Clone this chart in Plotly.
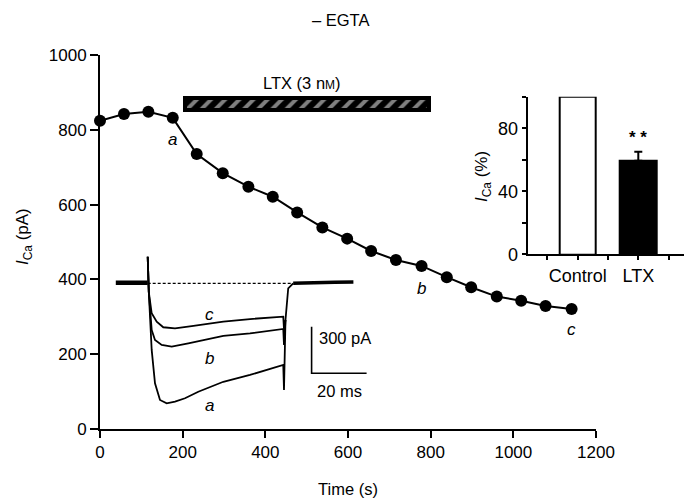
import plotly.graph_objects as go

# ---------------- data ----------------
time_s = [0, 58, 117, 176, 234, 297, 359, 418, 477, 538, 598, 656, 716, 778, 839, 898, 960, 1019, 1078, 1141]
ica_pA = [824, 842, 848, 832, 735, 684, 648, 621, 579, 539, 509, 476, 452, 436, 406, 379, 354, 343, 329, 321]

ltx_start_s = 205
ltx_end_s = 795

bar_cats = ["Control", "LTX"]
bar_pct = [100, 59.4]
bar_err = [0, 5.7]

# current traces (ms, pA)
base_pre_t = [-11.6, -8.0, -4.0, 0.0]
base_pre_i = [0, 2, -1, 0]
base_post_t = [52.9, 58.0, 63.0, 68.0, 74.8]
base_post_i = [-4, 0, 1, 3, 4]

trace_a_t = [0, 0.4, 1.45, 2.65, 4.47, 6.9, 9.93, 13.56, 18.4, 23.27, 27.5, 37.2, 49.3, 49.56, 50.1, 51.1, 52.9]
trace_a_i = [167, -60, -433, -648, -755, -777, -766, -744, -702, -670, -638, -594, -530, -691, -240, -36, -4]
trace_b_t = [0, 0.4, 1.45, 2.65, 5.09, 8.73, 14.76, 20.83, 27.5, 37.2, 49.3, 49.56, 50.1]
trace_b_i = [167, -60, -305, -369, -401, -412, -390, -369, -343, -327, -298, -401, -240]
trace_c_t = [0, 0.4, 1.45, 3.27, 5.67, 9.93, 16, 27.5, 37.2, 49.3, 49.56, 50.1]
trace_c_i = [167, -60, -197, -251, -287, -294, -279, -251, -234, -219, -300, -240]

zero_t = [0, 52.4]
zero_i = [-4, -4]

scale_pA = 300
scale_ms = 20

# ---------------- layout helpers ----------------
W, H = 684, 498
def px(x):
    return x / W
def py(y):
    return 1 - y / H

FONT = "Liberation Sans, Arial, sans-serif"
INK = "#000000"

fig = go.Figure()

# main time course
fig.add_trace(go.Scatter(
    x=time_s, y=ica_pA, mode="lines+markers",
    line=dict(color=INK, width=2),
    marker=dict(color=INK, size=12),
    cliponaxis=False, xaxis="x", yaxis="y", showlegend=False, hoverinfo="skip"))

# LTX application bar (hatched)
fig.add_trace(go.Bar(
    x=[ltx_end_s - ltx_start_s], base=[ltx_start_s], y=[868.5], width=[33],
    orientation="h",
    marker=dict(color="black", line=dict(color="black", width=4),
                pattern=dict(shape="/", fgcolor="white", bgcolor="black", size=10, solidity=0.4)),
    xaxis="x", yaxis="y", showlegend=False, hoverinfo="skip"))

# inset bar chart
fig.add_trace(go.Bar(
    x=[0, 1], y=bar_pct, width=0.605,
    marker=dict(color=["white", "black"], line=dict(color=INK, width=2)),
    xaxis="x2", yaxis="y2", showlegend=False, hoverinfo="skip"))
fig.add_trace(go.Scatter(
    x=[1], y=[bar_pct[1]], mode="markers", marker=dict(size=1, color="rgba(0,0,0,0)"),
    error_y=dict(type="data", symmetric=False, array=[bar_err[1]], arrayminus=[0],
                 color=INK, thickness=2, width=4),
    xaxis="x2", yaxis="y2", showlegend=False, hoverinfo="skip"))

# current traces inset
def tr(t, i, w, dash=None):
    fig.add_trace(go.Scatter(x=t, y=i, mode="lines", line=dict(color=INK, width=w, dash=dash),
                             xaxis="x3", yaxis="y3", showlegend=False, cliponaxis=False,
                             hoverinfo="skip"))
tr(zero_t, zero_i, 1.2, "3px,2px")
tr(base_pre_t, base_pre_i, 4.5)
tr(base_post_t, base_post_i, 3.5)
tr(trace_a_t, trace_a_i, 1.8)
tr(trace_b_t, trace_b_i, 1.8)
tr(trace_c_t, trace_c_i, 1.8)
# scale bars
sb_x0, sb_y0 = 59.6, -283
tr([sb_x0, sb_x0, sb_x0 + scale_ms], [sb_y0, sb_y0 - scale_pA, sb_y0 - scale_pA], 1.6)

axis_common = dict(showgrid=False, zeroline=False, showline=True, linecolor=INK,
                   ticks="outside", tickcolor=INK, color=INK, automargin=False)

fig.update_layout(
    width=W, height=H, margin=dict(l=0, r=0, t=0, b=0, pad=0, autoexpand=False),
    paper_bgcolor="white", plot_bgcolor="rgba(0,0,0,0)",
    font=dict(family=FONT, color=INK, size=17),
    bargap=0,
    xaxis=dict(domain=[px(100), px(596)], range=[0, 1200], tickvals=[0, 200, 400, 600, 800, 1000, 1200],
               linewidth=2, ticklen=7, tickwidth=2, anchor="y", tickfont=dict(size=17), **axis_common),
    yaxis=dict(domain=[py(429), py(55)], range=[0, 1000], tickvals=[0, 200, 400, 600, 800, 1000],
               linewidth=2, ticklen=8, tickwidth=2, anchor="x", tickfont=dict(size=17), **axis_common),
    xaxis2=dict(domain=[px(527.7), 1.0], range=[-0.825, 1.754], tickvals=[0, 1],
                ticktext=bar_cats, linewidth=2, ticklen=4, tickwidth=1.5,
                minor=dict(tickvals=[-0.5, 0.5, 1.5], ticks="outside", ticklen=4, tickwidth=1.5, tickcolor=INK),
                anchor="y2", tickfont=dict(size=18), **axis_common),
    yaxis2=dict(domain=[py(254.3), py(96.7)], range=[0, 100], tickvals=[0, 40, 80],
                linewidth=2, ticklen=4, tickwidth=1.5,
                minor=dict(tickvals=[20, 60, 100], ticks="outside", ticklen=4, tickwidth=1.5, tickcolor=INK),
                anchor="x2", tickfont=dict(size=18), **axis_common),
    xaxis3=dict(domain=[px(92.7), px(395.2)], range=[-20, 90], visible=False, anchor="y3", automargin=False),
    yaxis3=dict(domain=[py(438), py(236.1)], range=[-1000, 300], visible=False, anchor="x3", automargin=False),
)

ann = []
def A(text, x, y, xref="paper", yref="paper", size=17, angle=0, xanchor="center"):
    ann.append(dict(text=text, x=x, y=y, xref=xref, yref=yref, showarrow=False,
                    font=dict(size=size, family=FONT, color=INK), textangle=angle,
                    xanchor=xanchor, yanchor="middle"))

A("– EGTA", px(340), py(20), size=16.5)
A("Time (s)", px(348), py(489), size=16.5)
A("<i>I</i><sub>Ca</sub> (pA)", px(24), py(237), size=17, angle=-90)
A("<i>I</i><sub>Ca</sub> (%)", px(483), py(177), size=17, angle=-90)
A("LTX (3 n<span style='font-size:12px'>M</span>)", 488, 924, xref="x", yref="y", size=16.5)
A("<i>a</i>", 176, 775, xref="x", yref="y", size=17)
A("<i>b</i>", 778, 377, xref="x", yref="y", size=17)
A("<i>c</i>", 1141, 267, xref="x", yref="y", size=17)
A("<b>* *</b>", 1, 74, xref="x2", yref="y2", size=17)
A("<i>c</i>", 22.4, -202, xref="x3", yref="y3", size=17)
A("<i>b</i>", 22.6, -487, xref="x3", yref="y3", size=17)
A("<i>a</i>", 22.6, -788, xref="x3", yref="y3", size=17)
A("300 pA", 61.6, -356, xref="x3", yref="y3", size=16.5, xanchor="left")
A("20 ms", 69.9, -697, xref="x3", yref="y3", size=16.5)
fig.update_layout(annotations=ann)

fig.write_html("out.html", config={"displayModeBar": False},
               post_script="document.body.style.margin='0px';document.body.style.padding='0px';")
